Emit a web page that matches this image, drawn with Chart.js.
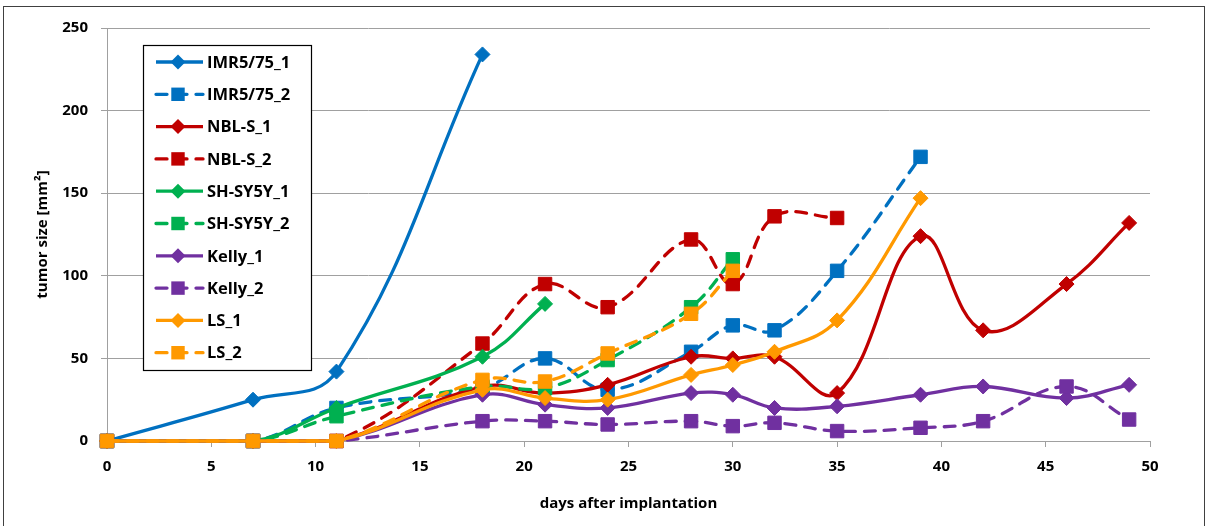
<!DOCTYPE html>
<html>
<head>
<meta charset="utf-8">
<script src="https://cdn.jsdelivr.net/npm/chart.js@4.4.0/dist/chart.umd.min.js"></script>
<style>
  html, body { margin: 0; padding: 0; background: #fff; }
  #wrap { width: 1208px; height: 526px; }
</style>
</head>
<body>
<div id="wrap"><canvas id="growth" width="1208" height="526"></canvas></div>
<script>
// measurement days (every series is a prefix of this list)
const days = [0, 7, 11, 18, 21, 24, 28, 30, 32, 35, 39, 42, 46, 49];

const imr5_1   = [0, 25, 42, 234];
const imr5_2   = [0, 0, 20, 32, 50, 31, 54, 70, 67, 103, 172];
const nblS_1   = [0, 0, 0, 33, 29, 34, 51, 50, 51, 29, 124, 67, 95, 132];
const nblS_2   = [0, 0, 0, 59, 95, 81, 122, 95, 136, 135];
const shSy5y_1 = [0, 0, 20, 51, 83];
const shSy5y_2 = [0, 0, 15, 33, 32, 49, 81, 110];
const kelly_1  = [0, 0, 0, 28, 22, 20, 29, 28, 20, 21, 28, 33, 26, 34];
const kelly_2  = [0, 0, 0, 12, 12, 10, 12, 9, 11, 6, 8, 12, 33, 13];
const ls_1     = [0, 0, 0, 31, 26, 25, 40, 46, 54, 73, 147];
const ls_2     = [0, 0, 0, 37, 36, 53, 77, 103];

const xTicks = [0, 5, 10, 15, 20, 25, 30, 35, 40, 45, 50];
const yTicks = [0, 50, 100, 150, 200, 250];

const BLUE = '#0070C0', RED = '#C00000', GREEN = '#00B050', PURPLE = '#7030A0', ORANGE = '#FF9900';
const FONT = '"Open Sans", Lato, sans-serif';

function series(label, vals, color, dashed) {
  return {
    label: label,
    data: vals.map((v, i) => ({ x: days[i], y: v })),
    borderColor: color,
    backgroundColor: color,
    borderWidth: 3.3,
    borderDash: dashed ? [11, 9] : [],
    borderCapStyle: dashed ? 'round' : 'butt',
    tension: 0.4,
    pointStyle: dashed ? 'rect' : 'rectRot',
    pointRadius: dashed ? 9.5 : 7.5,
    pointHoverRadius: dashed ? 9.5 : 7.5,
    pointBackgroundColor: color,
    pointBorderColor: color,
    pointBorderWidth: 1,
    clip: false
  };
}

const datasets = [
  series('IMR5/75_1', imr5_1, BLUE, false),
  series('IMR5/75_2', imr5_2, BLUE, true),
  series('NBL-S_1', nblS_1, RED, false),
  series('NBL-S_2', nblS_2, RED, true),
  series('SH-SY5Y_1', shSy5y_1, GREEN, false),
  series('SH-SY5Y_2', shSy5y_2, GREEN, true),
  series('Kelly_1', kelly_1, PURPLE, false),
  series('Kelly_2', kelly_2, PURPLE, true),
  series('LS_1', ls_1, ORANGE, false),
  series('LS_2', ls_2, ORANGE, true)
];
// later series sit on top
datasets.forEach((d, i) => { d.order = -i; });

// white page with the thin frame round the whole chart
const frame = {
  id: 'frame',
  beforeDraw(chart) {
    const ctx = chart.ctx;
    ctx.save();
    ctx.fillStyle = '#fff';
    ctx.fillRect(0, 0, chart.width, chart.height);
    ctx.strokeStyle = '#404040';
    ctx.lineWidth = 1;
    ctx.strokeRect(3.5, 6.5, 1201, 540);
    ctx.restore();
  }
};

function marker(ctx, style, x, y, r) {
  ctx.beginPath();
  if (style === 'rect') {
    const s = r * Math.SQRT1_2;
    ctx.rect(x - s, y - s, 2 * s, 2 * s);
  } else {
    ctx.moveTo(x, y - r);
    ctx.lineTo(x + r, y);
    ctx.lineTo(x, y + r);
    ctx.lineTo(x - r, y);
    ctx.closePath();
  }
  ctx.fill();
}

// boxed legend inside the plot, upper left
const legendBox = {
  id: 'legendBox',
  afterDraw(chart) {
    const ctx = chart.ctx;
    const left = 143, top = 45, w = 168, h = 325, row = 32.3;
    ctx.save();
    ctx.fillStyle = '#fff';
    ctx.fillRect(left, top, w, h);
    ctx.strokeStyle = '#000';
    ctx.lineWidth = 1.2;
    ctx.strokeRect(left + 0.5, top + 0.5, w, h);
    ctx.font = 'bold 16.5px ' + FONT;
    ctx.textBaseline = 'middle';
    chart.data.datasets.forEach((ds, i) => {
      const cy = top + 17 + i * row;
      ctx.strokeStyle = ds.borderColor;
      ctx.lineWidth = ds.borderWidth;
      ctx.lineCap = ds.borderCapStyle;
      ctx.setLineDash(ds.borderDash);
      ctx.beginPath();
      ctx.moveTo(left + 13, cy);
      ctx.lineTo(left + 60, cy);
      ctx.stroke();
      ctx.setLineDash([]);
      ctx.fillStyle = ds.borderColor;
      marker(ctx, ds.pointStyle, left + 35, cy, ds.pointRadius);
      ctx.fillStyle = '#000';
      ctx.fillText(ds.label, left + 64, cy + 1);
    });
    ctx.restore();
  }
};

new Chart(document.getElementById('growth'), {
  type: 'line',
  data: { datasets: datasets },
  plugins: [frame, legendBox],
  options: {
    responsive: false,
    animation: false,
    events: [],
    layout: { padding: { left: 0, right: 58, top: 28, bottom: 0 } },
    plugins: { legend: { display: false }, tooltip: { enabled: false } },
    scales: {
      x: {
        type: 'linear',
        min: 0,
        max: 50,
        afterBuildTicks: s => { s.ticks = xTicks.map(v => ({ value: v })); },
        afterFit: s => { s.height = 85; },
        grid: { drawOnChartArea: false, drawTicks: true, tickLength: 6, color: '#a0a0a0' },
        border: { color: '#a0a0a0', width: 1 },
        ticks: { color: '#000', padding: 11, font: { family: FONT, size: 15, weight: 'bold' } },
        title: {
          display: true,
          text: 'days after implantation',
          color: '#000',
          font: { family: FONT, size: 15, weight: 'bold' },
          padding: { bottom: 13 }
        }
      },
      y: {
        min: 0,
        max: 250,
        afterBuildTicks: s => { s.ticks = yTicks.map(v => ({ value: v })); },
        afterFit: s => { s.width = 107; },
        grid: { drawTicks: true, tickLength: 6, color: '#a0a0a0', lineWidth: 1 },
        border: { color: '#a0a0a0', width: 1 },
        ticks: { color: '#000', padding: 13, font: { family: FONT, size: 15, weight: 'bold' } },
        title: {
          display: true,
          text: 'tumor size [mm²]',
          color: '#000',
          font: { family: FONT, size: 15, weight: 'bold' },
          padding: { top: 34 }
        }
      }
    }
  }
});
</script>
</body>
</html>
